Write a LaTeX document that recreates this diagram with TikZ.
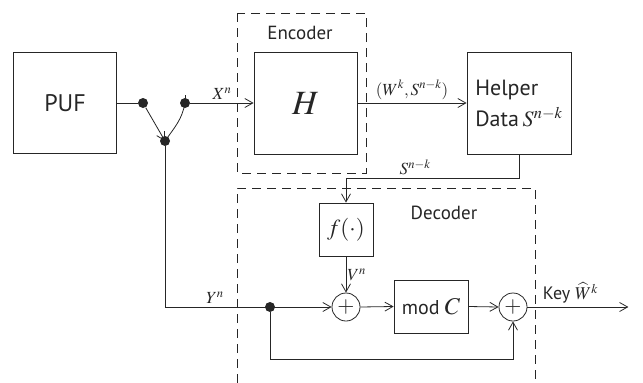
\documentclass[tikz,border=0pt]{standalone}
\usepackage{mathptmx}
\usepackage[no-math]{fontspec}
\setmainfont{PT Sans}
\usetikzlibrary{arrows.meta,positioning}

\begin{document}
\begin{tikzpicture}[x=1pt, y=-1pt, line width=0.8pt, color={black!85},
    >={Straight Barb[length=8pt,width=9pt]},
    block/.style={draw, inner sep=0pt},
    adder/.style={draw, circle, minimum size=28pt, inner sep=0pt, font=\fontsize{22}{22}\selectfont},
    dot/.style={circle, fill, inner sep=0pt, minimum size=10pt},
    frame/.style={dash pattern=on 9pt off 6pt},
    lbl/.style={font=\fontsize{17}{19}\selectfont}]
    \useasboundingbox (0,0) rectangle (643,383);

    % Caixas tracejadas
    \draw[frame] (237,13) rectangle (366,173);
    \draw[frame] (237,383) -- (237,188) -- (535,188) -- (535,383);
    \node[font=\fontsize{19}{21}\selectfont] (enc) at (300,33) {Encoder};
    \node[font=\fontsize{19}{21}\selectfont] (dec) at (444,213) {Decoder};

    % Blocos
    \node[block, minimum width=103pt, minimum height=101pt, font=\fontsize{24}{26}\selectfont] (puf) at (65,103) {PUF};
    \node[block, minimum width=103pt, minimum height=102pt, font=\fontsize{34}{34}\selectfont] (hh) at (305.5,103) {$H$};
    \node[block, minimum width=104pt, minimum height=102pt, align=left, font=\fontsize{22}{31}\selectfont] (helper) at (519,103) {Helper\\Data\,$S^{n-k}$};
    \node[block, minimum width=54pt, minimum height=53pt, font=\fontsize{23}{23}\selectfont] (ff) at (346,229.5) {$f(\cdot)$};
    \node[block, minimum width=74pt, minimum height=53pt, font=\fontsize{20}{22}\selectfont] (modc) at (431,306.5) {mod {\fontsize{24}{24}\selectfont$C$}};
    \node[adder] (plusa) at (346,307) {$+$};
    \node[adder] (plusb) at (513,307) {$+$};

    % Pontos
    \node[dot] (da) at (143,103) {};
    \node[dot] (db) at (185,103) {};
    \node[dot] (dc) at (165,141) {};
    \node[dot] (dd) at (270,307) {};

    % Chave
    \draw (puf.east) -- (da);
    \draw[->] (da) -- (dc.center);
    \draw (db.center) -- ++(0,-8);
    \draw (db.center) to[out=-100, in=55] (dc.center);
    \draw[->] (db) -- (hh.west) node[midway, above, lbl] {$X^n$};

    % Ligacoes
    \draw[->] (hh.east) -- (helper.west) node[midway, above, lbl] {$(W^k,S^{n-k})$};
    \draw[->] (helper.south) -- ++(0,24) -| (ff.north) node[pos=0.3, above, lbl] {$S^{n-k}$};
    \draw[->] (ff.south) -- (plusa.north) node[midway, right, lbl, inner sep=1pt] {$V^n$};
    \draw[->] (dc) |- (plusa.west) node[pos=0.65, above, lbl] {$Y^n$};
    \draw[->] (plusa.east) -- (modc.west);
    \draw[->] (modc.east) -- (plusb.west);
    \draw[->] (dd) -- ++(0,52) -| (plusb.south);
    \draw[->] (plusb.east) -- ++(101,0) node[pos=0.12, anchor=south west, inner sep=3pt, font=\fontsize{18}{20}\selectfont] {Key $\widehat{W}^k$};
\end{tikzpicture}
\end{document}
